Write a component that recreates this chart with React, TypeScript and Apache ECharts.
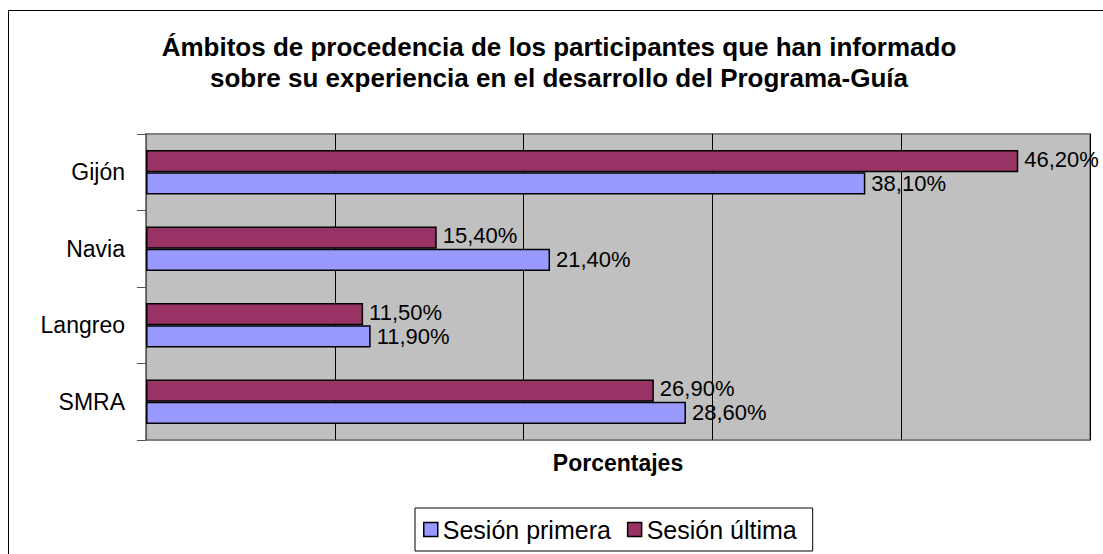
import React, { useEffect, useRef } from "react";
import * as echarts from "echarts";

const categories = ["Gijón", "Navia", "Langreo", "SMRA"];
const sesionPrimera = [38.1, 21.4, 11.9, 28.6];
const sesionUltima = [46.2, 15.4, 11.5, 26.9];
const seriesNames = ["Sesión primera", "Sesión última"];
const titleText =
  "Ámbitos de procedencia de los participantes que han informado\nsobre su experiencia en el desarrollo del Programa-Guía";
const axisName = "Porcentajes";

const FONT = "'Liberation Sans', Arial, sans-serif";

const fmt = (p: any) => p.value.toFixed(2).replace(".", ",") + "%";

export default function App() {
  const ref = useRef<HTMLDivElement>(null);
  useEffect(() => {
    if (!ref.current) return;
    const chart = echarts.init(ref.current, undefined, { renderer: "svg" });
    chart.setOption({
      animation: false,
      backgroundColor: "#ffffff",
      textStyle: { fontFamily: FONT },
      title: {
        text: titleText,
        left: 559,
        top: 31.5,
        padding: 0,
        textAlign: "center",
        textStyle: {
          fontFamily: FONT,
          fontSize: 26,
          fontWeight: "bold",
          color: "#000",
          lineHeight: 31,
        },
      },
      graphic: [
        {
          type: "rect",
          shape: { x: 8.5, y: 10.5, width: 1200, height: 700 },
          style: { fill: "none", stroke: "#000", lineWidth: 1 },
          silent: true,
          z: -10,
        },
      ],
      legend: {
        data: seriesNames,
        left: 415,
        top: 508,
        orient: "horizontal",
        icon: "rect",
        itemWidth: 14,
        itemHeight: 14,
        itemGap: 16,
        padding: [9, 16, 9, 8],
        borderColor: "#000",
        borderWidth: 1,
        itemStyle: { borderColor: "#000", borderWidth: 1.5 },
        textStyle: { fontFamily: FONT, fontSize: 25, color: "#000" },
      },
      grid: {
        left: 146,
        top: 134,
        right: 13,
        bottom: 114,
        show: true,
        backgroundColor: "#C0C0C0",
        borderColor: "#808080",
        borderWidth: 2,
      },
      xAxis: {
        type: "value",
        min: 0,
        max: 50,
        interval: 10,
        name: axisName,
        nameLocation: "middle",
        nameGap: 11,
        nameTextStyle: { fontFamily: FONT, fontSize: 23, fontWeight: "bold", color: "#000" },
        axisLabel: { show: false },
        axisTick: { show: false },
        axisLine: { show: false },
        splitLine: { show: true, lineStyle: { color: "#000", width: 1 } },
      },
      yAxis: {
        type: "category",
        data: categories,
        inverse: true,
        axisLine: { show: true, lineStyle: { color: "#555", width: 1 } },
        axisTick: { show: true, length: 9, lineStyle: { color: "#555" } },
        axisLabel: { fontFamily: FONT, fontSize: 23, color: "#000", margin: 21 },
        splitLine: { show: false },
      },
      series: [
        {
          name: seriesNames[1],
          type: "bar",
          data: sesionUltima,
          barGap: "0%",
          barCategoryGap: "42%",
          itemStyle: { color: "#993366", borderColor: "#000", borderWidth: 1.5 },
          label: {
            show: true,
            position: "right",
            distance: 6,
            formatter: fmt,
            fontFamily: FONT,
            fontSize: 22,
            color: "#000",
            offset: [0, -2],
          },
        },
        {
          name: seriesNames[0],
          type: "bar",
          data: sesionPrimera,
          barGap: "0%",
          barCategoryGap: "42%",
          itemStyle: { color: "#9999FF", borderColor: "#000", borderWidth: 1.5 },
          label: {
            show: true,
            position: "right",
            distance: 6,
            formatter: fmt,
            fontFamily: FONT,
            fontSize: 22,
            color: "#000",
            offset: [0, 0],
          },
        },
      ],
    });
    return () => chart.dispose();
  }, []);
  return (
    <div
      ref={ref}
      style={{ position: "fixed", left: 0, top: 0, width: 1103, height: 554 }}
    />
  );
}
